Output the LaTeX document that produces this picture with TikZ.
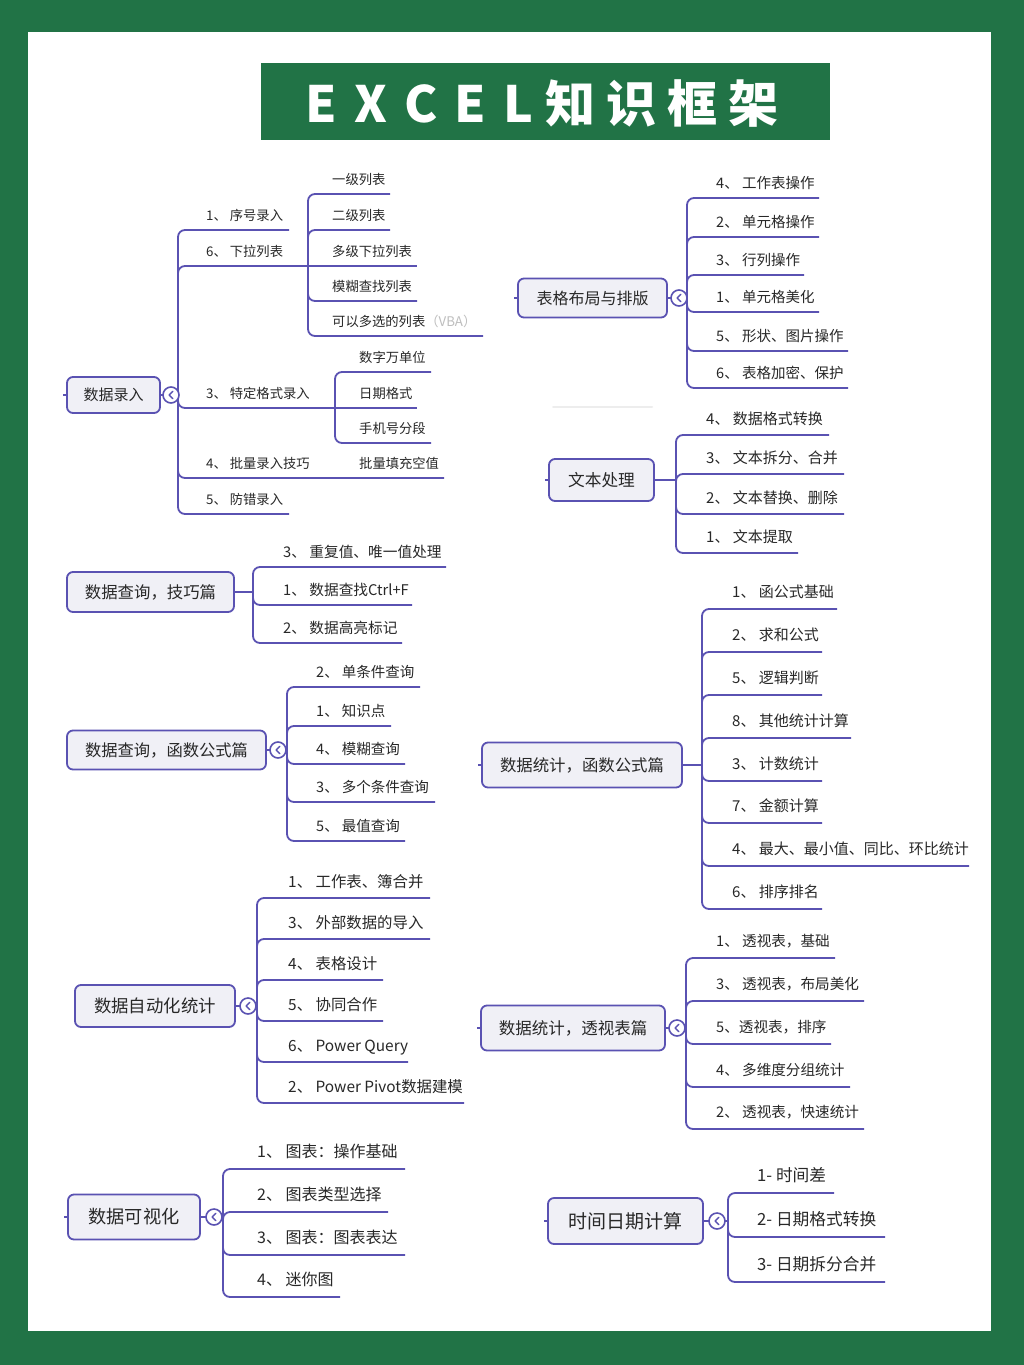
\documentclass[tikz,border=0pt]{standalone}
\usepackage{fontspec}
\setmainfont{Noto Sans CJK SC}
\usetikzlibrary{calc}
\definecolor{xlgreen}{RGB}{33,115,70}
\definecolor{lin}{RGB}{90,82,178}
\definecolor{boxfill}{RGB}{240,240,246}
\definecolor{txt}{RGB}{40,40,40}
\newcommand\fs[1]{\fontsize{#1}{#1}\selectfont}
\tikzset{
  branch/.style={draw=lin, line width=1.8pt, rounded corners=7pt},
  rootbox/.style={draw=lin, fill=boxfill, line width=1.8pt, rounded corners=6pt, inner sep=0pt, text=txt},
  leaf/.style={anchor=west, inner sep=0pt, text=txt, text height=0.88em, text depth=0.12em},
  icon/.style={circle, draw=lin, fill=white, line width=1.6pt, minimum size=16pt, inner sep=0pt},
  chev/.style={draw=lin, line width=1.4pt, line cap=round, line join=round},
  stub/.style={draw=lin, line width=1.2pt},
}
\newcommand\leaf[6]{\node[leaf] (#1) at (#2,#3-#5) {#6}; \coordinate (#1e) at (#4,#3);}
\newcommand\rbox[6]{\node[rootbox, minimum width=#4pt, minimum height=#5pt] (#1) at (#2,#3) {#6};}
\newcommand\tog[3]{\node[icon] (#1) at (#2,#3) {};
  \draw[chev] ($(#1.center)+(1.8,-3.6)$) -- ($(#1.center)+(-1.8,0)$) -- ($(#1.center)+(1.8,3.6)$);}
\newcommand\bup[2]{\draw[branch] ($(#1 |- #2)+(0,14)$) -- (#1 |- #2) -- (#2);}
\newcommand\bdn[2]{\draw[branch] ($(#1 |- #2)+(0,-14)$) -- (#1 |- #2) -- (#2);}
\newcommand\bends[3]{\draw[branch] (#2) -- (#1 |- #2) -- (#1 |- #3) -- (#3);}
\newcommand\blink[2]{\draw[branch] (#1.east) -- (#2 |- #1.east);}
\begin{document}
\begin{tikzpicture}[x=1pt, y=-1pt]
\useasboundingbox (0,0) rectangle (1024,1365);
\fill[xlgreen] (0,0) rectangle (1024,1365);
\fill[white] (28,32) rectangle (991,1331);
% title
\fill[xlgreen] (261,63) rectangle (830,140);
\node[anchor=base, inner sep=0pt, text=white, font=\fs{50}\bfseries] (title) at (542,122)
  {E\kern17pt X\kern17pt C\kern17pt E\kern17pt L\kern12pt 知\kern11pt 识\kern11pt 框\kern11pt 架};
\draw[black!7, line width=2pt, line cap=round] (553,407) -- (652,407);

% ---------- group 1: 数据录入
\begin{scope}[leaf/.append style={font=\fs{13.3}}, rootbox/.append style={font=\fs{15}}]
\rbox{g1}{113.5}{395}{93}{36}{数据录入}
\coordinate (sp1) at (178,395);
\coordinate (ss1) at (308,266);
\coordinate (ss2) at (335,408);
\leaf{a1}{206}{230}{289}{13}{1、 序号录入}
\leaf{a6}{206}{266}{308}{13}{6、 下拉列表}
\leaf{a3}{206}{408}{335}{13}{3、 特定格式录入}
\leaf{a4}{206}{478}{444}{13}{4、 批量录入技巧}
\leaf{a5}{206}{514}{289}{13}{5、 防错录入}
\leaf{b1}{332}{194}{390}{13}{一级列表}
\leaf{b2}{332}{230}{390}{13}{二级列表}
\leaf{b3}{332}{266}{417}{13}{多级下拉列表}
\leaf{b4}{332}{301}{417}{13}{模糊查找列表}
\leaf{b5}{332}{336}{483}{13}{可以多选的列表{\color{txt!30}（VBA）}}
\leaf{c1}{359}{372}{431}{13}{数字万单位}
\leaf{c2}{359}{408}{417}{13}{日期格式}
\leaf{c3}{359}{443}{431}{13}{手机号分段}
\leaf{c4}{359}{478}{444}{13}{批量填充空值}
\draw[stub] (g1.west) -- ++(-3,0);
\blink{g1}{sp1}
\bends{sp1}{a1e}{a5e}
\bup{sp1}{a6e}
\bdn{sp1}{a3e}
\bdn{sp1}{a4e}
\bends{ss1}{b1e}{b5e}
\bup{ss1}{b2e}
\draw[branch] (ss1) -- (b3e);
\bdn{ss1}{b4e}
\bends{ss2}{c1e}{c3e}
\draw[branch] (ss2) -- (c2e);
\tog{t1}{171}{395}
\end{scope}

% ---------- group 2: 表格布局与排版
\begin{scope}[leaf/.append style={font=\fs{14.5}}, rootbox/.append style={font=\fs{16}}]
\rbox{g2}{592.5}{298}{149}{39}{表格布局与排版}
\coordinate (sp2) at (687,298);
\leaf{d4}{716}{198}{819}{13.5}{4、 工作表操作}
\leaf{d2}{716}{237}{819}{13.5}{2、 单元格操作}
\leaf{d3}{716}{275}{804}{13.5}{3、 行列操作}
\leaf{d1}{716}{312}{819}{13.5}{1、 单元格美化}
\leaf{d5}{716}{351}{848}{13.5}{5、 形状、图片操作}
\leaf{d6}{716}{388}{848}{13.5}{6、 表格加密、保护}
\draw[stub] (g2.west) -- ++(-3,0);
\blink{g2}{sp2}
\bends{sp2}{d4e}{d6e}
\bup{sp2}{d2e}
\bup{sp2}{d3e}
\bdn{sp2}{d1e}
\bdn{sp2}{d5e}
\tog{t2}{679}{298}
\end{scope}

% ---------- group 3: 文本处理
\begin{scope}[leaf/.append style={font=\fs{15}}, rootbox/.append style={font=\fs{16.7}}]
\rbox{g3}{601.5}{480}{105}{42}{文本处理}
\coordinate (sp3) at (676,480);
\leaf{e4}{706}{435}{829}{14}{4、 数据格式转换}
\leaf{e3}{706}{474}{844}{14}{3、 文本拆分、合并}
\leaf{e2}{706}{514}{844}{14}{2、 文本替换、删除}
\leaf{e1}{706}{553}{798}{14}{1、 文本提取}
\draw[stub] (g3.west) -- ++(-3,0);
\blink{g3}{sp3}
\bends{sp3}{e4e}{e1e}
\bup{sp3}{e3e}
\bdn{sp3}{e2e}
\end{scope}

% ---------- group 4: 数据查询，技巧篇
\begin{scope}[leaf/.append style={font=\fs{14.7}}, rootbox/.append style={font=\fs{16.4}}]
\rbox{g4}{150.5}{592}{167}{40}{数据查询，技巧篇}
\coordinate (sp4) at (253,592);
\leaf{f3}{283}{567}{446}{13.5}{3、 重复值、唯一值处理}
\leaf{f1}{283}{605}{412}{13.5}{1、 数据查找Ctrl+F}
\leaf{f2}{283}{643}{402}{13.5}{2、 数据高亮标记}
\blink{g4}{sp4}
\bends{sp4}{f3e}{f2e}
\bdn{sp4}{f1e}
\end{scope}

% ---------- group 5: 数据查询，函数公式篇
\begin{scope}[leaf/.append style={font=\fs{14.5}}, rootbox/.append style={font=\fs{16.3}}]
\rbox{g5}{166.5}{750}{199}{39}{数据查询，函数公式篇}
\coordinate (sp5) at (287,750);
\leaf{h2}{316}{687}{420}{13.5}{2、 单条件查询}
\leaf{h1}{316}{726}{391}{13.5}{1、 知识点}
\leaf{h4}{316}{764}{405}{13.5}{4、 模糊查询}
\leaf{h3}{316}{802}{435}{13.5}{3、 多个条件查询}
\leaf{h5}{316}{841}{405}{13.5}{5、 最值查询}
\blink{g5}{sp5}
\bends{sp5}{h2e}{h5e}
\bup{sp5}{h1e}
\bdn{sp5}{h4e}
\bdn{sp5}{h3e}
\tog{t5}{278}{750}
\end{scope}

% ---------- group 6: 数据统计，函数公式篇
\begin{scope}[leaf/.append style={font=\fs{15}}, rootbox/.append style={font=\fs{16.4}}]
\rbox{g6}{582}{765}{200}{45}{数据统计，函数公式篇}
\coordinate (sp6) at (702,765);
\leaf{k1}{732}{609}{837}{15}{1、 函公式基础}
\leaf{k2}{732}{652}{822}{15}{2、 求和公式}
\leaf{k5}{732}{695}{822}{15}{5、 逻辑判断}
\leaf{k8}{732}{738}{851}{15}{8、 其他统计计算}
\leaf{k3}{732}{781}{822}{15}{3、 计数统计}
\leaf{k7}{732}{823}{822}{15}{7、 金额计算}
\leaf{k4}{732}{866}{969}{15}{4、 最大、最小值、同比、环比统计}
\leaf{k6}{732}{909}{822}{15}{6、 排序排名}
\draw[stub] (g6.west) -- ++(-3,0);
\blink{g6}{sp6}
\bends{sp6}{k1e}{k6e}
\bup{sp6}{k2e}
\bup{sp6}{k5e}
\bup{sp6}{k8e}
\bdn{sp6}{k3e}
\bdn{sp6}{k7e}
\bdn{sp6}{k4e}
\end{scope}

% ---------- group 7: 数据自动化统计
\begin{scope}[leaf/.append style={font=\fs{15.4}}, rootbox/.append style={font=\fs{17.4}}]
\rbox{g7}{155}{1006}{160}{42}{数据自动化统计}
\coordinate (sp7) at (257,1006);
\leaf{m1}{288}{898}{430}{14.5}{1、 工作表、簿合并}
\leaf{m3}{288}{939}{430}{14.5}{3、 外部数据的导入}
\leaf{m4}{288}{980}{383}{14.5}{4、 表格设计}
\leaf{m5}{288}{1021}{383}{14.5}{5、 协同合作}
\leaf{m6}{288}{1062}{408}{14.5}{6、 Power Query}
\leaf{m2}{288}{1103}{464}{14.5}{2、 Power Pivot数据建模}
\blink{g7}{sp7}
\bends{sp7}{m1e}{m2e}
\bup{sp7}{m3e}
\bup{sp7}{m4e}
\bdn{sp7}{m5e}
\bdn{sp7}{m6e}
\tog{t7}{248}{1006}
\end{scope}

% ---------- group 8: 数据可视化
\begin{scope}[leaf/.append style={font=\fs{16}}, rootbox/.append style={font=\fs{18.2}}]
\rbox{g8}{134}{1217}{132}{45}{数据可视化}
\coordinate (sp8) at (223,1217);
\leaf{n1}{257}{1169}{405}{15}{1、 图表：操作基础}
\leaf{n2}{257}{1212}{388}{15}{2、 图表类型选择}
\leaf{n3}{257}{1255}{405}{15}{3、 图表：图表表达}
\leaf{n4}{257}{1297}{340}{15}{4、 迷你图}
\draw[stub] (g8.west) -- ++(-3,0);
\blink{g8}{sp8}
\bends{sp8}{n1e}{n4e}
\bup{sp8}{n2e}
\bdn{sp8}{n3e}
\tog{t8}{214}{1217}
\end{scope}

% ---------- group 9: 数据统计，透视表篇
\begin{scope}[leaf/.append style={font=\fs{14.6}}, rootbox/.append style={font=\fs{16.5}}]
\rbox{g9}{573}{1028}{184}{45}{数据统计，透视表篇}
\coordinate (sp9) at (686,1028);
\leaf{p1}{716}{958}{835}{15}{1、 透视表，基础}
\leaf{p3}{716}{1001}{864}{15}{3、 透视表，布局美化}
\leaf{p5}{716}{1044}{831}{15}{5、透视表，排序}
\leaf{p4}{716}{1087}{850}{15}{4、 多维度分组统计}
\leaf{p2}{716}{1129}{864}{15}{2、 透视表，快速统计}
\draw[stub] (g9.west) -- ++(-3,0);
\blink{g9}{sp9}
\bends{sp9}{p1e}{p2e}
\bup{sp9}{p3e}
\bdn{sp9}{p5e}
\bdn{sp9}{p4e}
\tog{t9}{677}{1028}
\end{scope}

% ---------- group 10: 时间日期计算
\begin{scope}[leaf/.append style={font=\fs{16.7}}, rootbox/.append style={font=\fs{19}}]
\rbox{g10}{625.5}{1221}{155}{46}{时间日期计算}
\coordinate (sp10) at (728,1221);
\leaf{q1}{757}{1193}{834}{15.5}{1- 时间差}
\leaf{q2}{757}{1237}{885}{15.5}{2- 日期格式转换}
\leaf{q3}{757}{1282}{885}{15.5}{3- 日期拆分合并}
\draw[stub] (g10.west) -- ++(-3,0);
\blink{g10}{sp10}
\bends{sp10}{q1e}{q3e}
\bdn{sp10}{q2e}
\tog{t10}{717}{1221}
\end{scope}
\end{tikzpicture}
\end{document}
